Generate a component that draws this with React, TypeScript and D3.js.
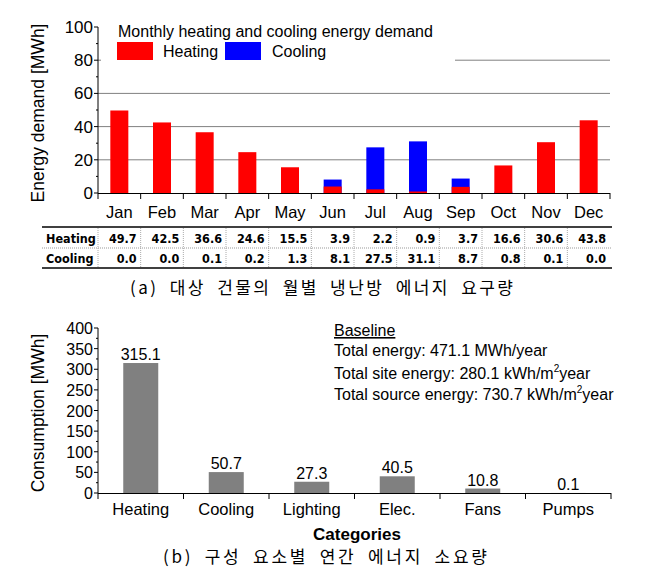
import React from "react";
import * as d3 from "d3";

const months = ["Jan", "Feb", "Mar", "Apr", "May", "Jun", "Jul", "Aug", "Sep", "Oct", "Nov", "Dec"];
const heating = [49.7, 42.5, 36.6, 24.6, 15.5, 3.9, 2.2, 0.9, 3.7, 16.6, 30.6, 43.8];
const cooling = [0.0, 0.0, 0.1, 0.2, 1.3, 8.1, 27.5, 31.1, 8.7, 0.8, 0.1, 0.0];
const topTicks = [0, 20, 40, 60, 80, 100];
const topGrid = [20, 40, 60, 80];

const categories = ["Heating", "Cooling", "Lighting", "Elec.", "Fans", "Pumps"];
const consumption = [315.1, 50.7, 27.3, 40.5, 10.8, 0.1];
const botTicks = [0, 50, 100, 150, 200, 250, 300, 350, 400];

const FONT = "'Liberation Sans', Arial, sans-serif";
const TFONT = "'Liberation Sans Narrow', 'DejaVu Sans Condensed', 'Liberation Sans', sans-serif";
const KFONT = "'Noto Sans CJK KR', sans-serif";

export default function App() {
  const xT = d3.scaleBand<string>().domain(months).range([98, 610]);
  const yT = d3.scaleLinear().domain([0, 100]).range([193, 27]);
  const bwT = 18;
  const minorT = d3.range(0, 101, 10);

  const xB = d3.scaleBand<string>().domain(categories).range([98, 611]);
  const yB = d3.scaleLinear().domain([0, 400]).range([493, 328]);
  const bwB = 35;
  const minorB = d3.range(0, 401, 25);

  return (
    <svg width={672} height={587} style={{ position: "absolute", left: 0, top: 0, background: "#fff" }}>
      <defs>
        <clipPath id="clipBase">
          <rect x={300} y={300} width={314} height={120} />
        </clipPath>
      </defs>
      {/* ===== Top chart ===== */}
      {topGrid.map((v) => (
        <line key={"g" + v} x1={98} x2={610} y1={yT(v)} y2={yT(v)} stroke="#808080" strokeWidth={1} />
      ))}
      {/* legend background */}
      <rect x={101} y={18} width={354} height={52} fill="#fff" />
      <text x={118} y={37} fontFamily={FONT} fontSize={16} fill="#000">Monthly heating and cooling energy demand</text>
      <rect x={117} y={42} width={36} height={18} fill="#ff0000" />
      <text x={163} y={57} fontFamily={FONT} fontSize={16} fill="#000">Heating</text>
      <rect x={225} y={42} width={36} height={18} fill="#0000ff" />
      <text x={272} y={57} fontFamily={FONT} fontSize={16} fill="#000">Cooling</text>

      {months.map((m, i) => {
        const cx = (xT(m) as number) + xT.bandwidth() / 2;
        const h0 = yT(heating[i]);
        const c0 = yT(cooling[i]);
        return (
          <g key={m}>
            <rect x={cx - bwT / 2} y={c0} width={bwT} height={yT(0) - c0} fill="#0000ff" />
            <rect x={cx - bwT / 2} y={h0} width={bwT} height={yT(0) - h0} fill="#ff0000" />
            <text x={cx} y={218} textAnchor="middle" fontFamily={FONT} fontSize={16.5} fill="#000">{m}</text>
          </g>
        );
      })}
      {/* axes */}
      <line x1={98} x2={98} y1={yT(100)} y2={yT(0)} stroke="#000" strokeWidth={1} />
      <line x1={98} x2={610} y1={yT(0) + 0.5} y2={yT(0) + 0.5} stroke="#000" strokeWidth={1.2} />
      {minorT.map((v) => (
        <line key={"mt" + v} x1={v % 20 === 0 ? 94 : 96} x2={98} y1={yT(v)} y2={yT(v)} stroke="#000" strokeWidth={1} />
      ))}
      {topTicks.map((v) => (
        <text key={"tt" + v} x={93} y={yT(v) + 6} textAnchor="end" fontFamily={FONT} fontSize={17} fill="#000">{v}</text>
      ))}
      {d3.range(0, 13).map((i) => {
        const x = 98 + i * xT.step();
        return <line key={"xt" + i} x1={x} x2={x} y1={193} y2={199} stroke="#000" strokeWidth={1} />;
      })}
      <text transform="translate(44,113) rotate(-90)" textAnchor="middle" fontFamily={FONT} fontSize={17.5} fill="#000">Energy demand [MWh]</text>

      {/* ===== Table ===== */}
      <line x1={42} x2={612} y1={227} y2={227} stroke="#000" strokeWidth={1.5} />
      <line x1={42} x2={612} y1={248} y2={248} stroke="#999" strokeWidth={1} strokeDasharray="1,1" />
      <line x1={42} x2={612} y1={268} y2={268} stroke="#000" strokeWidth={1.5} />
      {d3.range(0, 12).map((i) => {
        const x = 98 + i * xT.step();
        return <line key={"tv" + i} x1={x} x2={x} y1={228} y2={267} stroke="#aaa" strokeWidth={1} strokeDasharray="1,1" />;
      })}
      <text x={46} y={243} fontFamily={TFONT} fontWeight="bold" fontSize={12.5} fill="#000">Heating</text>
      <text x={46} y={263} fontFamily={TFONT} fontWeight="bold" fontSize={12.5} fill="#000">Cooling</text>
      {months.map((m, i) => {
        const xr = (xT(m) as number) + xT.bandwidth() - 4;
        return (
          <g key={"tb" + m}>
            <text x={xr} y={243} textAnchor="end" fontFamily={TFONT} fontWeight="bold" fontSize={12.5} fill="#000">{heating[i].toFixed(1)}</text>
            <text x={xr} y={263} textAnchor="end" fontFamily={TFONT} fontWeight="bold" fontSize={12.5} fill="#000">{cooling[i].toFixed(1)}</text>
          </g>
        );
      })}
      <text x={130} y={294} fontFamily={KFONT} fontSize={17} wordSpacing={5} textLength={383} lengthAdjust="spacing" fill="#000">(a) 대상 건물의 월별 냉난방 에너지 요구량</text>

      {/* ===== Bottom chart ===== */}
      {categories.map((c, i) => {
        const cx = (xB(c) as number) + xB.bandwidth() / 2;
        const y0 = yB(consumption[i]);
        return (
          <g key={c}>
            <rect x={cx - bwB / 2} y={y0} width={bwB} height={yB(0) - y0} fill="#808080" />
            <text x={cx} y={y0 - 3} textAnchor="middle" fontFamily={FONT} fontSize={16} fill="#000">{consumption[i]}</text>
            <text x={cx} y={515} textAnchor="middle" fontFamily={FONT} fontSize={16.5} fill="#000">{c}</text>
          </g>
        );
      })}
      <line x1={98} x2={98} y1={yB(400)} y2={yB(0)} stroke="#000" strokeWidth={1} />
      <line x1={98} x2={611} y1={yB(0) + 0.5} y2={yB(0) + 0.5} stroke="#000" strokeWidth={1.2} />
      {minorB.map((v) => (
        <line key={"mb" + v} x1={v % 50 === 0 ? 94 : 96} x2={98} y1={yB(v)} y2={yB(v)} stroke="#000" strokeWidth={1} />
      ))}
      {botTicks.map((v) => (
        <text key={"bt" + v} x={93} y={yB(v) + 6} textAnchor="end" fontFamily={FONT} fontSize={16} fill="#000">{v}</text>
      ))}
      {d3.range(0, 7).map((i) => {
        const x = 98 + i * xB.step();
        return <line key={"bx" + i} x1={x} x2={x} y1={493} y2={499} stroke="#000" strokeWidth={1} />;
      })}
      <text transform="translate(44,413) rotate(-90)" textAnchor="middle" fontFamily={FONT} fontSize={17.5} fill="#000">Consumption [MWh]</text>
      <text x={357} y={540} textAnchor="middle" fontFamily={FONT} fontWeight="bold" fontSize={17} fill="#000">Categories</text>

      <g clipPath="url(#clipBase)" fontFamily={FONT} fontSize={16} fill="#000">
        <text x={334} y={336} textDecoration="underline">Baseline</text>
        <text x={334} y={356}>Total energy: 471.1 MWh/year</text>
        <text x={334} y={379}>Total site energy: 280.1 kWh/m<tspan dy={-7} fontSize={10}>2</tspan><tspan dy={7}>year</tspan></text>
        <text x={334} y={400}>Total source energy: 730.7 kWh/m<tspan dy={-7} fontSize={10}>2</tspan><tspan dy={7}>year</tspan></text>
      </g>

      <text x={163} y={563} fontFamily={KFONT} fontSize={17} wordSpacing={5} textLength={324} lengthAdjust="spacing" fill="#000">(b) 구성 요소별 연간 에너지 소요량</text>
    </svg>
  );
}
